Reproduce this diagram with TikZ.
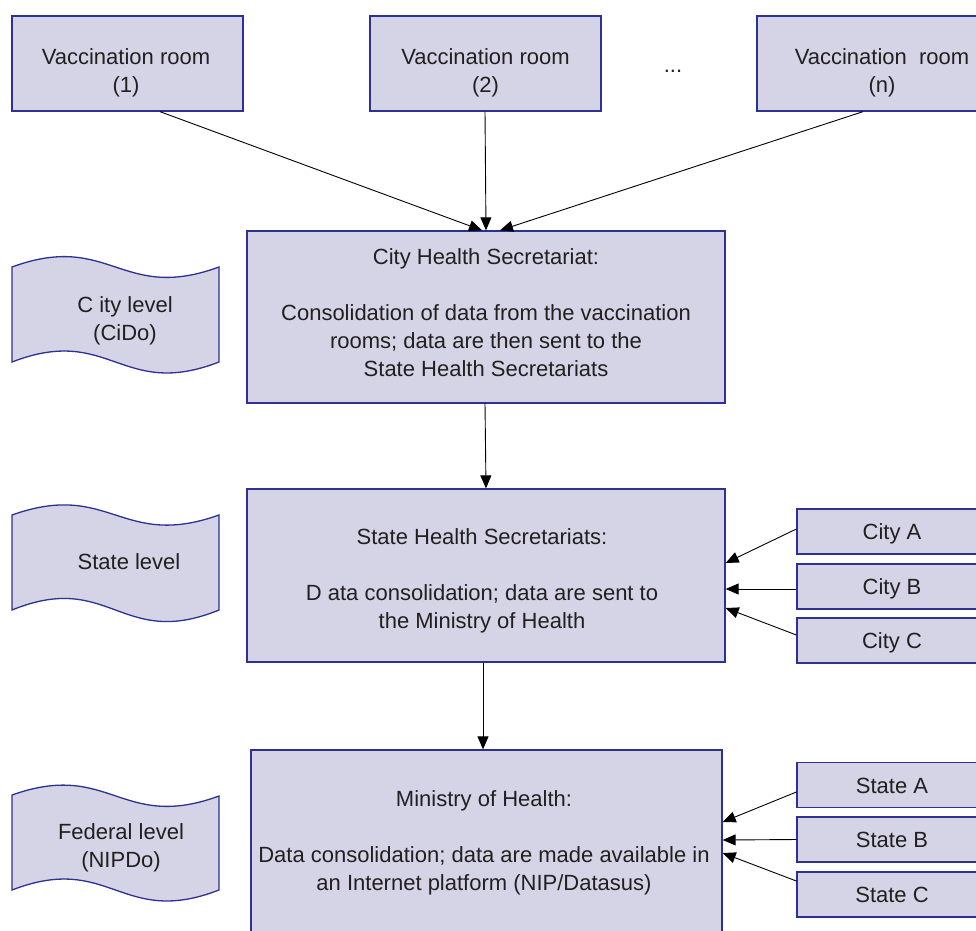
\documentclass[tikz,border=0pt]{standalone}
\usepackage{fontspec}
\setmainfont{Liberation Sans}
\usetikzlibrary{arrows.meta}
\definecolor{fl}{RGB}{212,212,230}
\definecolor{bdr}{RGB}{46,49,146}
\definecolor{ink}{RGB}{35,31,32}
\tikzset{
  boxst/.style={draw=bdr, fill=fl, line width=1.3pt, inner sep=0pt, rectangle},
  tapest/.style={draw=bdr, fill=fl, line width=1.3pt},
  txt/.style={text=ink, font=\fontsize{22}{28}\selectfont, align=center, inner sep=0pt},
  sbox/.style={boxst, text=ink, font=\fontsize{22}{28}\selectfont, text height=16pt, text depth=0pt, minimum width=190pt, minimum height=45pt},
  arr/.style={draw=black, line width=0.9pt, -{Triangle[length=13pt,width=11pt]}}
}
\begin{document}
\begin{tikzpicture}[x=1pt,y=-1pt]
\useasboundingbox (0,0) rectangle (976,930);
\clip (0,0) rectangle (976,930);
% top vaccination rooms
\node[boxst, minimum width=231pt, minimum height=95pt] (vr1) at (127.5,63.5) {};
\node[boxst, minimum width=231pt, minimum height=95pt] (vr2) at (485.5,63.5) {};
\node[boxst, minimum width=250pt, minimum height=95pt] (vrn) at (882,63.5) {};
\node[txt, anchor=base] (t1) at (126,92) {Vaccination room\\(1)};
\node[txt, anchor=base] (t2) at (485.5,92) {Vaccination room\\(2)};
\node[txt, anchor=base] (tn) at (882,92) {Vaccination\ \ room\\(n)};
\node[txt, anchor=base] (dots) at (673,72) {...};
% main boxes
\node[boxst, minimum width=478pt, minimum height=172pt] (city) at (486,317) {};
\node[txt, anchor=base] (tcity) at (486,376) {City Health Secretariat:\\[28pt]Consolidation of data from the vaccination\\rooms; data are then sent to the\\State Health Secretariats};
\node[boxst, minimum width=478pt, minimum height=173pt] (state) at (486,575.5) {};
\node[txt, anchor=base] (tstate) at (482,628) {State Health Secretariats:\\[28pt]D ata consolidation; data are sent to\\the Ministry of Health};
\node[boxst, minimum width=471pt, minimum height=200pt] (mini) at (486.5,850) {};
\node[txt, anchor=base] (tmini) at (484,890) {Ministry of Health:\\[28pt]Data consolidation; data are made available in\\an Internet platform (NIP/Datasus)};
% level tapes
\draw[tapest] (12,267) .. controls (110,231) and (121,303) .. (219,267) -- (219,362) .. controls (121,400) and (110,324) .. (12,362) -- cycle;
\node[txt, anchor=base] (lcity) at (125,340) {C ity level\\(CiDo)};
\draw[tapest] (12,515) .. controls (110,480) and (121,550) .. (219,515) -- (219,610) .. controls (121,650) and (110,570) .. (12,610) -- cycle;
\node[txt, anchor=base] (lstate) at (129,569) {State level};
\draw[tapest] (12,795) .. controls (110,760) and (121,832) .. (219,796) -- (219,890) .. controls (121,928) and (110,852) .. (12,890) -- cycle;
\node[txt, anchor=base] (lfed) at (121,867) {Federal level\\(NIPDo)};
% right boxes
\node[sbox] (ca) at (892,531.5) {City A};
\node[sbox] (cb) at (892,586.5) {City B};
\node[sbox] (cc) at (892,640.5) {City C};
\node[sbox] (sa) at (892,785) {State A};
\node[sbox] (sb) at (892,839.5) {State B};
\node[sbox] (sc) at (892,894.5) {State C};
% arrows
\draw[arr] ([xshift=32.5pt]vr1.south) -- ([xshift=-4pt]city.north);
\draw[arr] ([xshift=-0.5pt]vr2.south) -- (city.north);
\draw[arr] ([xshift=-19pt]vrn.south) -- ([xshift=14pt]city.north);
\draw[arr] ([xshift=-1pt]city.south) -- (state.north);
\draw[arr] ([xshift=-3pt]state.south) -- ([xshift=-3.5pt]mini.north);
\draw[arr] ([yshift=2.5pt]ca.west) -- ([yshift=12.5pt]state.east);
\draw[arr] ([yshift=-2.5pt]cb.west) -- ([yshift=-13.5pt]state.east);
\draw[arr] ([yshift=5.5pt]cc.west) -- ([yshift=-32.5pt]state.east);
\draw[arr] ([yshift=-7pt]sa.west) -- ([yshift=28pt]mini.east);
\draw[arr] (sb.west) -- ([yshift=10pt]mini.east);
\draw[arr] ([yshift=13.5pt]sc.west) -- ([yshift=-3pt]mini.east);
\end{tikzpicture}
\end{document}
